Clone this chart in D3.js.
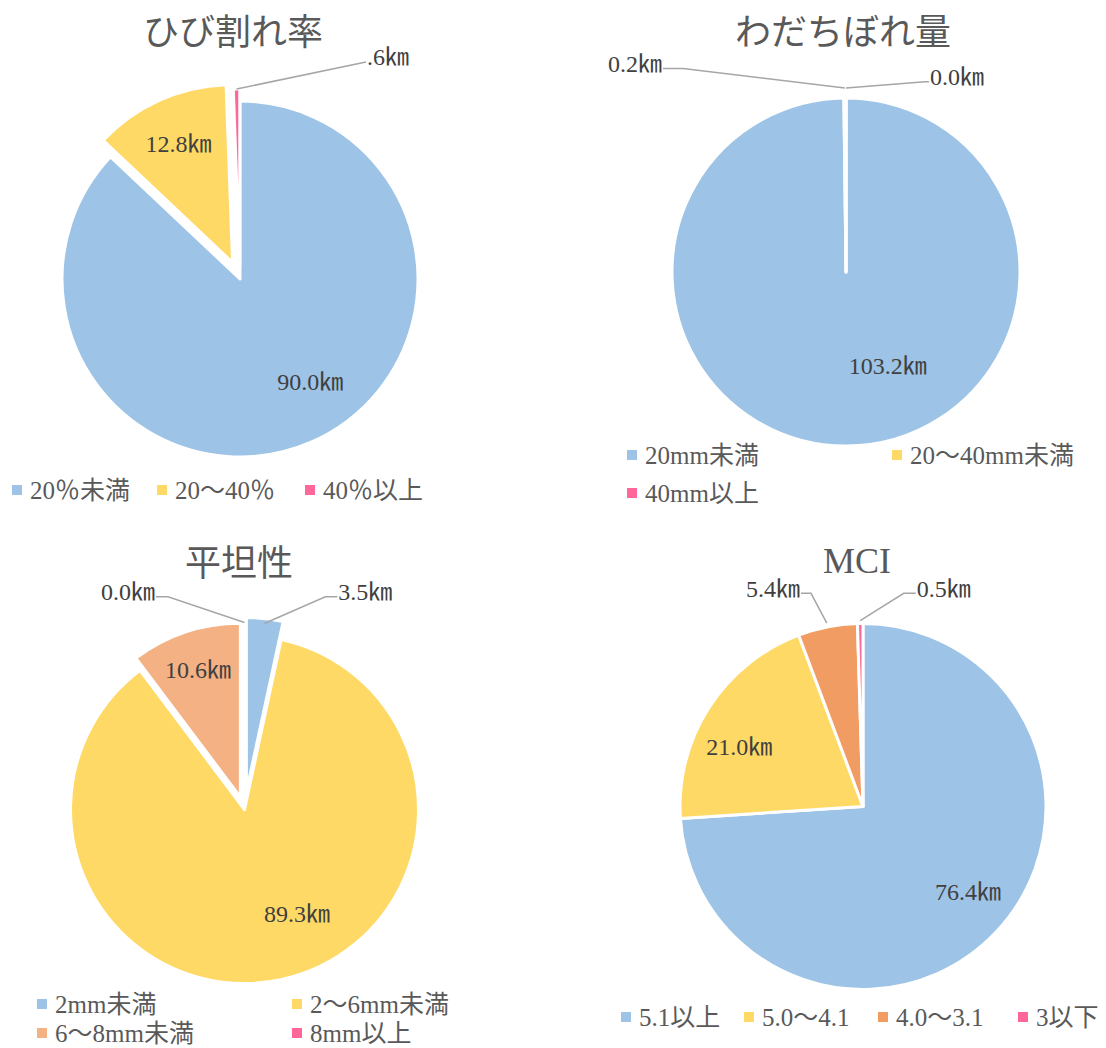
<!DOCTYPE html>
<html>
<head>
<meta charset="utf-8">
<script src="https://cdn.jsdelivr.net/npm/d3@7"></script>
<style>
  body { margin: 0; background: #fff; }
  text { font-family: 'Liberation Serif', 'Noto Sans CJK JP', serif; }
</style>
</head>
<body>
<script>
// data
const titles = ["ひび割れ率", "わだちぼれ量", "平坦性", "MCI"];

const crackCats = ["20％未満", "20～40％", "40％以上"];
const crackVals = [90.0, 12.8, 0.6];

const rutCats = ["20mm未満", "20～40mm未満", "40mm以上"];
const rutVals = [103.2, 0.2, 0.0];

const flatCats = ["2mm未満", "2～6mm未満", "6～8mm未満", "8mm以上"];
const flatVals = [3.5, 89.3, 10.6, 0.0];

const mciCats = ["5.1以上", "5.0～4.1", "4.0～3.1", "3以下"];
const mciVals = [76.4, 21.0, 5.4, 0.5];

const blue = "#9DC3E6", yellow = "#FFD966", pink = "#FF6699";
const colors3 = [blue, yellow, pink];
const colorsFlat = [blue, yellow, "#F4B183", pink];
const colorsMci = [blue, yellow, "#F09C62", pink];

// layout per panel
// label: {a: angle deg, f: radius fraction} inside, or callout {tx, ty, side, gap}
const panels = [
  { cats: crackCats, vals: crackVals, colors: colors3, title: titles[0],
    cx: 240, cy: 279, r: 178, tX: 233, tY: 32,
    explode: [0, 18, 12],
    labels: [{a: 145.7, f: 0.70}, {f: 0.735}, {tx: 115, ty: -222, side: 1, gap: 0, elbow: 0, clip: 126}],
    legend: [[12, 490], [157, 490], [305, 490]] },
  { cats: rutCats, vals: rutVals, colors: colors3, title: titles[1],
    cx: 846, cy: 272, r: 174, tX: 843, tY: 32,
    explode: [0, 0, 0],
    labels: [{a: 156, f: 0.59}, {tx: -184, ty: -208.5, side: -1, gap: 10, elbow: 20}, {tx: 84, ty: -195.3, side: 1, gap: 10, elbow: 4}],
    legend: [[627, 455], [892, 455], [627, 493]] },
  { cats: flatCats, vals: flatVals, colors: colorsFlat, title: titles[2],
    cx: 244.5, cy: 809.5, r: 174, tX: 239, tY: 563,
    explode: [18, 0, 13, 0],
    labels: [{tx: 93.8, ty: -217.8, side: 1, gap: -5, elbow: 12}, {a: 153.3, f: 0.67}, {f: 0.77}, {tx: -89.5, ty: -217.8, side: -1, gap: 13, elbow: 12}],
    legend: [[37, 1004], [292, 1004], [37, 1033], [292, 1033]] },
  { cats: mciCats, vals: mciVals, colors: colorsMci, title: titles[3],
    cx: 863, cy: 806.5, r: 183, tX: 857, tY: 560,
    explode: [0, 0, 0, 0],
    labels: [{a: 129.2, f: 0.74}, {a: 295.7, f: 0.75}, {tx: -63, ty: -218.2, side: -1, gap: 4, elbow: 10}, {tx: 53.7, ty: -218.2, side: 1, gap: 3, elbow: 12}],
    legend: [[621, 1017], [744, 1017], [878, 1017], [1018, 1017]] }
];

const svg = d3.select("body").append("svg")
  .attr("width", 1106)
  .attr("height", 1048);

const fmt = d3.format(".1f");
const rad = Math.PI / 180;
const pie = d3.pie().sort(null).value(d => d);

panels.forEach((p, pi) => {
  const g = svg.append("g");
  const arcs = pie(p.vals);
  const arc = d3.arc().innerRadius(0).outerRadius(p.r);

  // title
  g.append("text")
    .attr("x", p.tX).attr("y", p.tY).attr("dy", "0.36em")
    .attr("text-anchor", "middle")
    .attr("font-size", 36)
    .attr("fill", "#595959")
    .text(p.title);

  // centre of each (possibly exploded) slice
  const centres = arcs.map((d, i) => {
    const mid = (d.startAngle + d.endAngle) / 2;
    const e = p.explode[i];
    return [p.cx + Math.sin(mid) * e, p.cy - Math.cos(mid) * e];
  });

  // slices
  g.selectAll("path.slice").data(arcs).enter().append("path")
    .attr("class", "slice")
    .attr("transform", (d, i) => "translate(" + centres[i][0] + "," + centres[i][1] + ")")
    .attr("d", arc)
    .attr("fill", (d, i) => p.colors[i])
    .attr("stroke", "#fff")
    .attr("stroke-width", 3)
    .attr("stroke-linejoin", "round");

  // data labels
  arcs.forEach((d, i) => {
    const L = p.labels[i];
    const [ox, oy] = centres[i];
    const mid = (d.startAngle + d.endAngle) / 2;
    const txt = fmt(d.data) + "㎞";
    if (L.tx === undefined) {
      const a = L.a !== undefined ? L.a * rad : mid;
      const rr = p.r * L.f;
      g.append("text")
        .attr("x", ox + Math.sin(a) * rr)
        .attr("y", oy - Math.cos(a) * rr)
        .attr("dy", "0.35em")
        .attr("text-anchor", "middle")
        .attr("font-size", 24)
        .attr("fill", "#404040")
        .text(txt);
    } else {
      const r0 = p.r + L.gap;
      const sx = ox + Math.sin(mid) * r0, sy = oy - Math.cos(mid) * r0;
      const lx = p.cx + L.tx, ly = p.cy + L.ty + 5;
      const endX = L.clip !== undefined ? p.cx + L.clip : lx - L.side * 1;
      const elbowX = endX - L.side * L.elbow;
      g.append("polyline")
        .attr("points", [[sx, sy], [elbowX, ly], [endX, ly]].map(q => q.join(",")).join(" "))
        .attr("fill", "none")
        .attr("stroke", "#A6A6A6")
        .attr("stroke-width", 1.5);
      const t = g.append("text")
        .attr("x", lx)
        .attr("y", p.cy + L.ty)
        .attr("dy", "0.35em")
        .attr("text-anchor", L.side > 0 ? "start" : "end")
        .attr("font-size", 24)
        .attr("fill", "#404040")
        .text(txt);
      if (L.clip !== undefined) {
        const id = "clip" + pi + "_" + i;
        svg.append("clipPath").attr("id", id)
          .append("rect")
          .attr("x", p.cx + L.clip + 1).attr("y", 0)
          .attr("width", 300).attr("height", 1048);
        t.attr("clip-path", "url(#" + id + ")");
      }
    }
  });

  // legend
  const lg = g.selectAll("g.leg").data(p.cats).enter().append("g")
    .attr("class", "leg")
    .attr("transform", (d, i) => "translate(" + p.legend[i][0] + "," + p.legend[i][1] + ")");
  lg.append("rect")
    .attr("x", 0).attr("y", -5)
    .attr("width", 10).attr("height", 10)
    .attr("fill", (d, i) => p.colors[i]);
  lg.append("text")
    .attr("x", 18).attr("dy", "0.36em")
    .attr("font-size", 25)
    .attr("fill", "#595959")
    .text(d => d);
});
</script>
</body>
</html>
